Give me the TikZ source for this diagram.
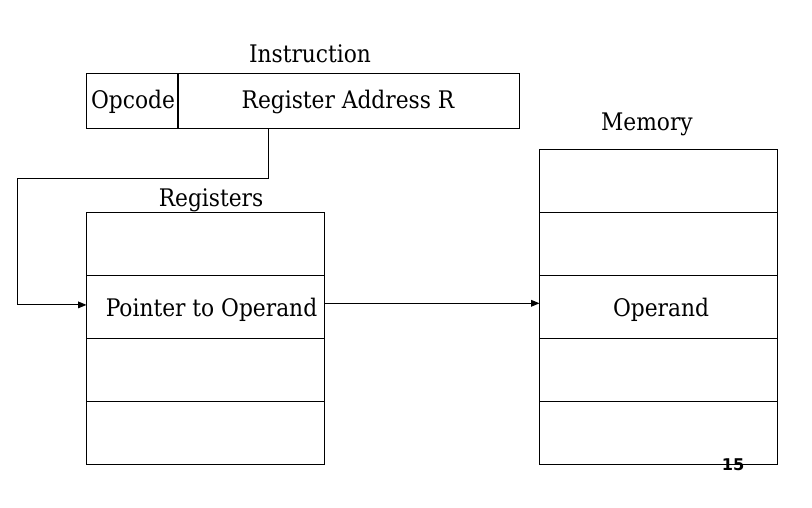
\documentclass[tikz,border=0pt]{standalone}
\usepackage{fontspec}
\setmainfont{DejaVu Serif Condensed}
\newfontfamily\pagenofont{DejaVu Sans}
\usetikzlibrary{arrows.meta, positioning}

\begin{document}
\begin{tikzpicture}[
    % GLOBAL CFG
    x=0.025cm, y=-0.025cm,
    font=\fontsize{17.2}{20}\selectfont,
    >={Triangle[length=6pt,width=4.8pt]},
    line width=0.7pt,
    % Styles
    field/.style={% For the instruction fields
        rectangle,
        draw,
        inner sep=0pt,
        minimum height=1.375cm,
        },
    cell/.style={% For one register or memory word
        rectangle,
        draw,
        inner sep=0pt,
        minimum width=5.925cm,
        minimum height=1.575cm,
        },
    title/.style={% Titles over the boxes
        inner sep=0pt,
        },
    ArrowC1/.style={% Plain connectors
        ->,
        line width=0.7pt,
        },
    ]

    \useasboundingbox (0,0) rectangle (812,508);

    % Draw the instruction
    \node [title] (instr) at (310,54) {Instruction};
    \node [field, minimum width=2.275cm] (opcode) at (132.5,100.5) {};
    \node [field, minimum width=8.525cm] (addr) at (348.5,100.5) {};
    \node at (133,102) {Opcode};
    \node at (348,102) {Register Address R};

    % Draw the registers named reg#
    \node [title] (regs) at (211,200) {Registers};
    \node [cell] (reg1) at (205.5,243.5) {};
    \node [cell] (reg2) at (205.5,306.5) {};
    \node [cell] (reg3) at (205.5,369.5) {};
    \node [cell] (reg4) at (205.5,432.5) {};
    \node at (211.5,310) {Pointer to Operand};

    % Draw the memory named mem#
    \node [title] (memory) at (647,124) {Memory};
    \node [cell] (mem1) at (658.5,180.5) {};
    \node [cell] (mem2) at (658.5,243.5) {};
    \node [cell] (mem3) at (658.5,306.5) {};
    \node [cell] (mem4) at (658.5,369.5) {};
    \node [cell] (mem5) at (658.5,432.5) {};
    \node at (661,310) {Operand};

    % Page number
    \node (pageno) at (733,465) {\pagenofont\bfseries\fontsize{11.5}{13}\selectfont 15};

% Start connecting all.
    \coordinate (tap) at (268,128);
    \coordinate (bend) at (17,178);
    \draw [ArrowC1] (tap) |- (bend) |- ([yshift=0.04cm]reg2.west);
    \draw [ArrowC1] ([yshift=0.08cm]reg2.east) -- ([yshift=0.08cm]mem3.west);

\end{tikzpicture}
\end{document}
